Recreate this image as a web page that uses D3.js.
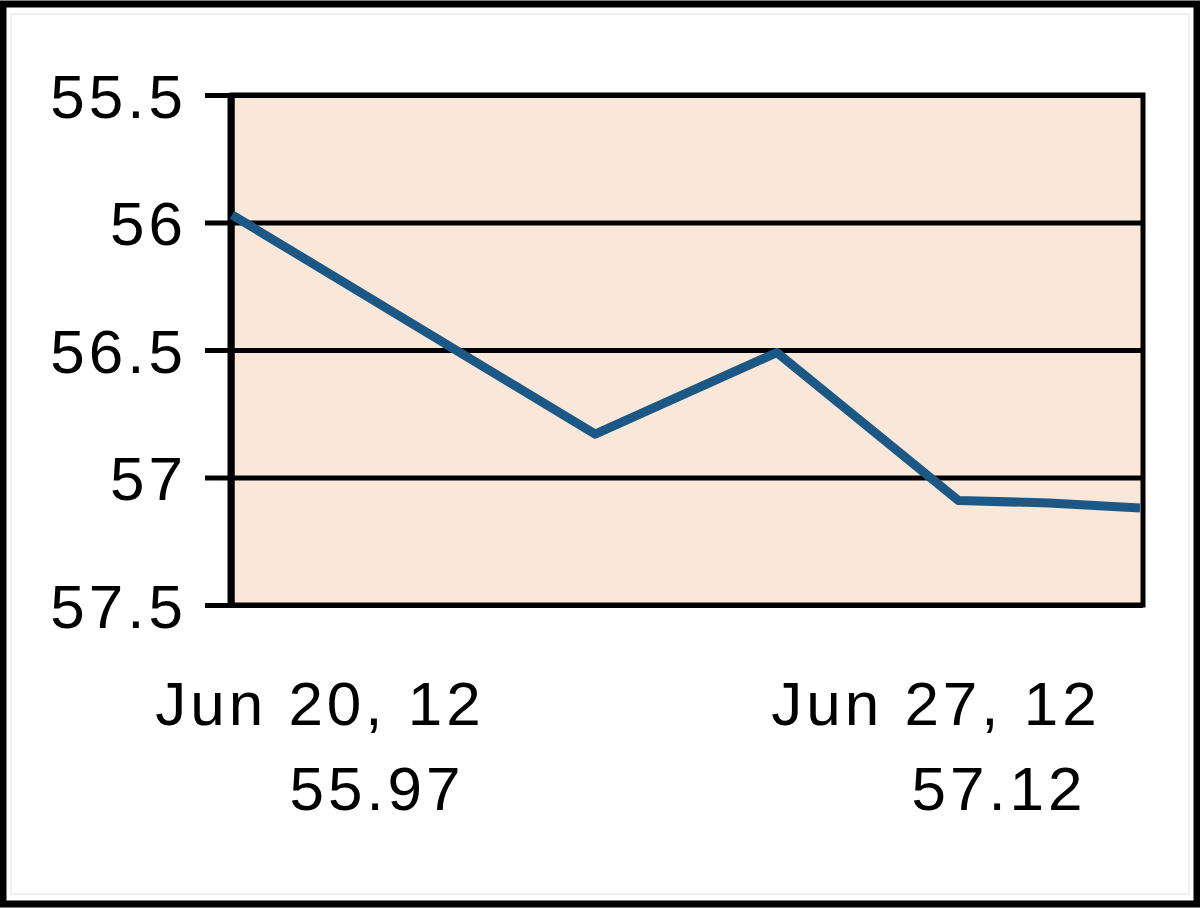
<!DOCTYPE html>
<html><head><meta charset="utf-8">
<script src="https://cdn.jsdelivr.net/npm/d3@7"></script>
<style>
html,body{margin:0;padding:0;background:#fff;}
svg{display:block;}
text{font-family:"Liberation Sans",Arial,sans-serif;fill:#000;}
</style></head>
<body>
<svg id="c" width="1200" height="908"></svg>
<script>
// Data (points are sample indexes along the week; y axis is inverted)
const pointIndex = [0, 4, 6, 8, 9, 10];
const prices = [55.97, 56.83, 56.51, 57.09, 57.10, 57.12];
const yTicks = [55.5, 56, 56.5, 57, 57.5];
const xLabels = ["Jun 20, 12", "Jun 27, 12"];
const xValueLabels = ["55.97", "57.12"];

const svg = d3.select("#c");
const W = 1200, H = 908;
const L = 232, R = 1143, T = 95, B = 605;

// outer frame
svg.append("rect").attr("x", 3).attr("y", 4).attr("width", W - 6).attr("height", H - 8)
  .attr("fill", "#fff").attr("stroke", "#000").attr("stroke-width", 7);
svg.append("rect").attr("x", 11).attr("y", 14).attr("width", W - 22).attr("height", H - 28)
  .attr("fill", "none").attr("stroke", "#f0f0f0").attr("stroke-width", 2);

const x = d3.scaleLinear().domain([0, 10]).range([L, 1140]);
const y = d3.scaleLinear().domain([55.5, 57.5]).range([T, B]);

// plot background
svg.append("rect").attr("x", L).attr("y", T).attr("width", R - L).attr("height", B - T)
  .attr("fill", "#f9e8da");

// grid lines
const grid = svg.append("g").attr("transform", `translate(${L},0)`)
  .call(d3.axisLeft(y).tickValues(yTicks).tickSize(-(R - L)).tickFormat(""));
grid.select(".domain").remove();
grid.selectAll(".tick line").attr("stroke", "#000").attr("stroke-width", 5);

// y axis with ticks and labels
const yAx = svg.append("g").attr("transform", `translate(${L},0)`)
  .call(d3.axisLeft(y).tickValues(yTicks).tickSize(27).tickPadding(18)
    .tickFormat(d => d3.format("")(d)));
yAx.select(".domain").remove();
yAx.selectAll(".tick line").attr("stroke", "#000").attr("stroke-width", 5);
yAx.selectAll(".tick text")
  .style("font-family", "'Liberation Sans', Arial, sans-serif")
  .style("font-size", "62px").style("letter-spacing", "4px")
  .attr("dy", "0.36em").attr("fill", "#000");

// plot border
svg.append("rect").attr("x", L).attr("y", T).attr("width", R - L).attr("height", B - T)
  .attr("fill", "none").attr("stroke", "#000").attr("stroke-width", 5);
svg.append("line").attr("x1", L - 1).attr("x2", L - 1).attr("y1", T).attr("y2", B + 3)
  .attr("stroke", "#000").attr("stroke-width", 7);

// line
const line = d3.line().x((d, i) => x(pointIndex[i])).y(d => y(d));
svg.append("path").datum(prices).attr("d", line)
  .attr("fill", "none").attr("stroke", "#1b5886").attr("stroke-width", 9)
  .attr("stroke-linejoin", "round");

// x labels
const lab = svg.append("g").style("font-size", "62px").style("letter-spacing", "4px");
const firstX = x(pointIndex[0]), lastX = x(pointIndex[pointIndex.length - 1]);
lab.append("text").attr("x", firstX + 88).attr("y", 725).attr("text-anchor", "middle").text(xLabels[0]);
lab.append("text").attr("x", firstX + 145).attr("y", 810).attr("text-anchor", "middle").text(xValueLabels[0]);
lab.append("text").attr("x", lastX - 204).attr("y", 725).attr("text-anchor", "middle").text(xLabels[1]);
lab.append("text").attr("x", lastX - 141).attr("y", 810).attr("text-anchor", "middle").text(xValueLabels[1]);
</script>
</body></html>
